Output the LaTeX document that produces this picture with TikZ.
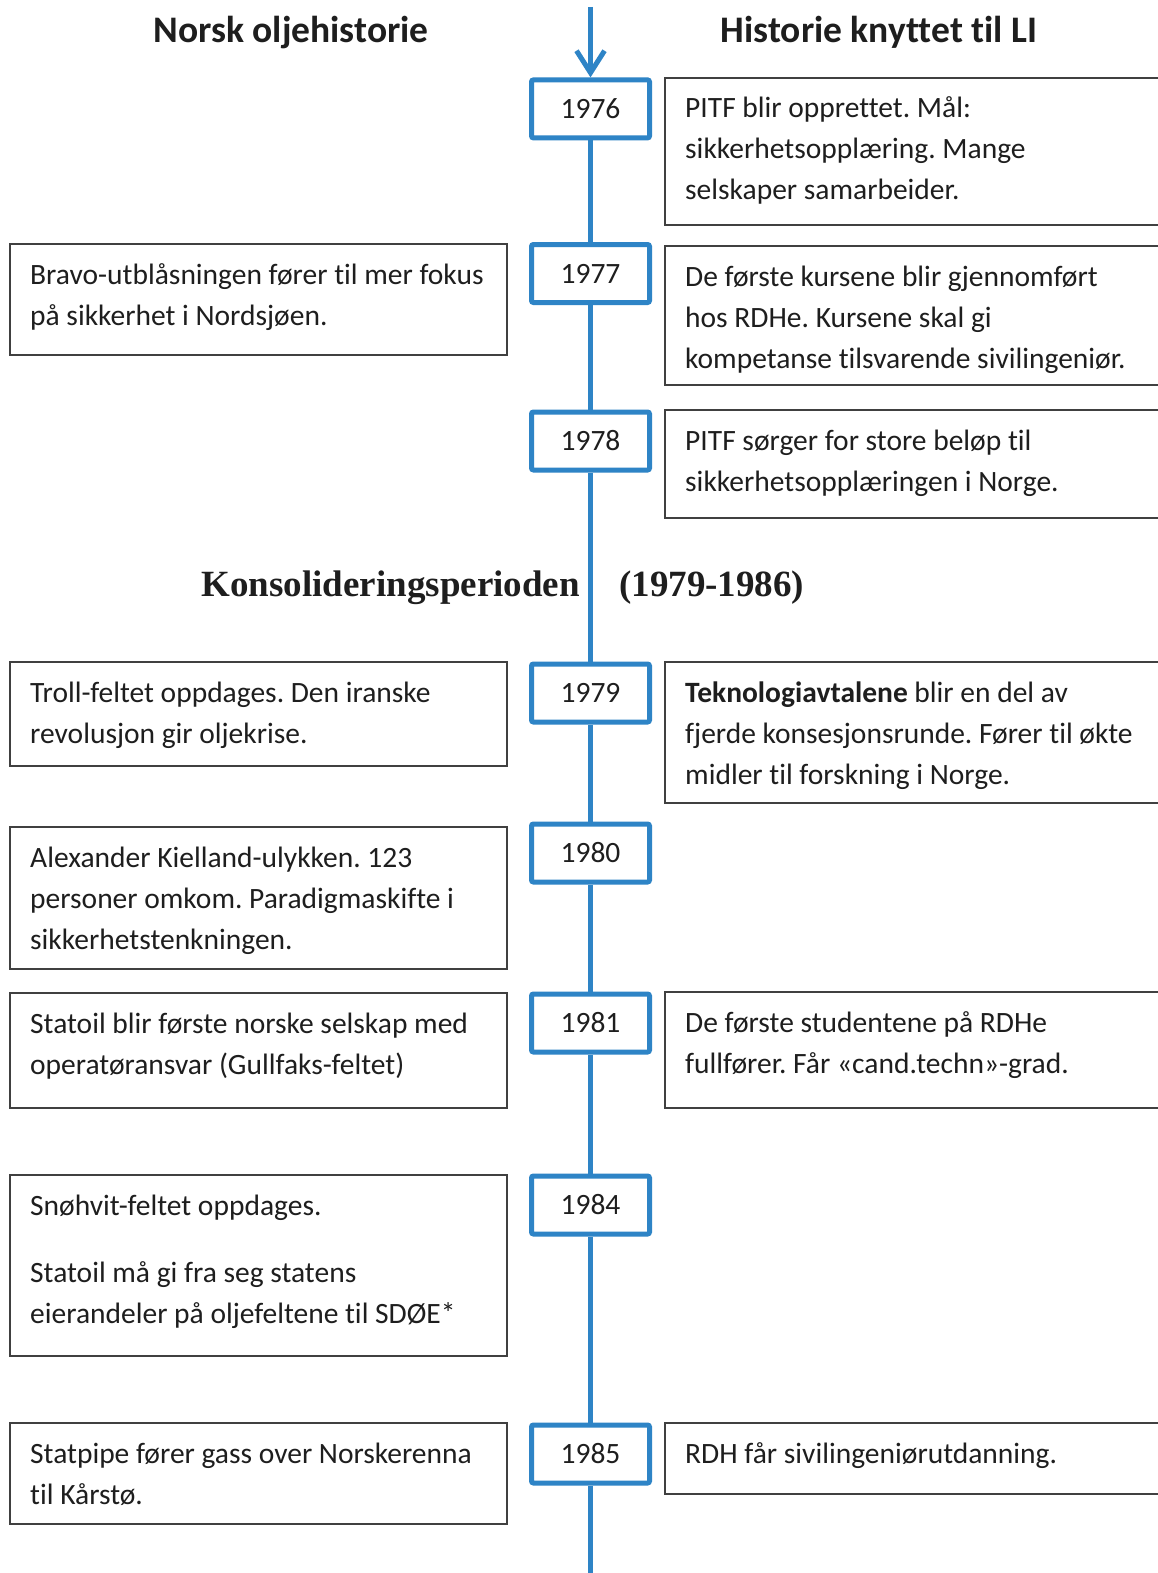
\documentclass[tikz,border=0pt]{standalone}
\usepackage{fontspec}
\setmainfont{Carlito}[Ligatures=NoCommon]
\newfontfamily\serifbold{Liberation Serif}
\usetikzlibrary{arrows.meta,calc}
\definecolor{tlblue}{RGB}{46,132,198}
\definecolor{boxgray}{RGB}{64,64,64}
\definecolor{ink}{RGB}{30,30,30}
\frenchspacing
\newcommand\txtlines[1]{\vtop{\baselineskip=41pt\relax #1}}
\newcommand\tline[1]{\hbox{#1}}
\begin{document}
\begin{tikzpicture}[x=1pt,y=-1pt,
  yearbox/.style={draw=tlblue, line width=5pt, rounded corners=2pt, minimum width=118pt, minimum height=58pt, inner sep=0pt, fill=white, font=\fontsize{29.5}{35}\selectfont, text=ink},
  infobox/.style={draw=boxgray, line width=1.3pt, anchor=north west, inner sep=0pt, outer sep=0pt},
  infotext/.style={anchor=base west, inner sep=0pt, font=\fontsize{29.5}{41}\selectfont, text=ink},
  tline/.style={draw=tlblue, line width=5pt},
  heading/.style={anchor=base, inner sep=0pt, font=\bfseries\fontsize{37.5}{44}\selectfont, text=ink},
  period/.style={inner sep=0pt, font=\serifbold\bfseries\fontsize{37}{44}\selectfont, text=ink}
]
\useasboundingbox[fill=white] (0,0) rectangle (1157,1573);

% headings
\node[heading] (hL) at (291,43) {Norsk oljehistorie};
\node[heading] (hR) at (879,43) {Historie knyttet til LI};
\node[period, anchor=base east] (p1) at (580,596) {Konsolideringsperioden};
\node[period, anchor=base west] (p2) at (619,596) {(1979-1986)};

% year boxes
\node[yearbox] (Y1976) at (590.5,108.9) {1976};
\node[yearbox] (Y1977) at (590.5,273.5) {1977};
\node[yearbox] (Y1978) at (590.5,441) {1978};
\node[yearbox] (Y1979) at (590.5,693) {1979};
\node[yearbox] (Y1980) at (590.5,853) {1980};
\node[yearbox] (Y1981) at (590.5,1023) {1981};
\node[yearbox] (Y1984) at (590.5,1205) {1984};
\node[yearbox] (Y1985) at (590.5,1454) {1985};

% timeline
\coordinate (top) at (590.5,7);
\coordinate (bot) at (590.5,1580);
\draw[tline, -{Straight Barb[length=22pt,width=28pt]}] (top) -- (Y1976.north);
\draw[tline] (Y1976.south) -- (Y1977.north);
\draw[tline] (Y1977.south) -- (Y1978.north);
\draw[tline] (Y1978.south) -- (Y1979.north);
\draw[tline] (Y1979.south) -- (Y1980.north);
\draw[tline] (Y1980.south) -- (Y1981.north);
\draw[tline] (Y1981.south) -- (Y1984.north);
\draw[tline] (Y1984.south) -- (Y1985.north);
\draw[tline] (Y1985.south) -- (bot);

% left boxes
\node[infobox, minimum width=497pt, minimum height=111pt] (L1) at (10,244) {};
\node[infotext] (L1t) at ($(L1.north west)+(20,40)$) {\txtlines{\tline{Bravo-utblåsningen fører til mer fokus}\tline{på sikkerhet i Nordsjøen.}}};

\node[infobox, minimum width=497pt, minimum height=104pt] (L2) at (10,662) {};
\node[infotext] (L2t) at ($(L2.north west)+(20,40)$) {\txtlines{\tline{Troll-feltet oppdages. Den iranske}\tline{revolusjon gir oljekrise.}}};

\node[infobox, minimum width=497pt, minimum height=142pt] (L3) at (10,827) {};
\node[infotext] (L3t) at ($(L3.north west)+(20,40)$) {\txtlines{\tline{Alexander Kielland-ulykken. 123}\tline{personer omkom. Paradigmaskifte i}\tline{sikkerhetstenkningen.}}};

\node[infobox, minimum width=497pt, minimum height=115pt] (L4) at (10,993) {};
\node[infotext] (L4t) at ($(L4.north west)+(20,40)$) {\txtlines{\tline{Statoil blir første norske selskap med}\tline{operatøransvar (Gullfaks-feltet)}}};

\node[infobox, minimum width=497pt, minimum height=181pt] (L5) at (10,1175) {};
\node[infotext] (L5t) at ($(L5.north west)+(20,40)$) {\txtlines{\tline{Snøhvit-feltet oppdages.}\vskip26pt\tline{Statoil må gi fra seg statens}\tline{eierandeler på oljefeltene til SDØE*}}};

\node[infobox, minimum width=497pt, minimum height=101pt] (L6) at (10,1423) {};
\node[infotext] (L6t) at ($(L6.north west)+(20,40)$) {\txtlines{\tline{Statpipe fører gass over Norskerenna}\tline{til Kårstø.}}};

% right boxes
\node[infobox, minimum width=520pt, minimum height=147pt] (R1) at (665,78) {};
\node[infotext] (R1t) at ($(R1.north west)+(20,40)$) {\txtlines{\tline{PITF blir opprettet. Mål:}\tline{sikkerhetsopplæring. Mange}\tline{selskaper samarbeider.}}};

\node[infobox, minimum width=520pt, minimum height=139pt] (R2) at (665,246) {};
\node[infotext] (R2t) at ($(R2.north west)+(20,40)$) {\txtlines{\tline{De første kursene blir gjennomført}\tline{hos RDHe. Kursene skal gi}\tline{kompetanse tilsvarende sivilingeniør.}}};

\node[infobox, minimum width=520pt, minimum height=108pt] (R3) at (665,410) {};
\node[infotext] (R3t) at ($(R3.north west)+(20,40)$) {\txtlines{\tline{PITF sørger for store beløp til}\tline{sikkerhetsopplæringen i Norge.}}};

\node[infobox, minimum width=520pt, minimum height=141pt] (R4) at (665,662) {};
\node[infotext] (R4t) at ($(R4.north west)+(20,40)$) {\txtlines{\tline{\textbf{Teknologiavtalene} blir en del av}\tline{fjerde konsesjonsrunde. Fører til økte}\tline{midler til forskning i Norge.}}};

\node[infobox, minimum width=520pt, minimum height=116pt] (R5) at (665,992) {};
\node[infotext] (R5t) at ($(R5.north west)+(20,40)$) {\txtlines{\tline{De første studentene på RDHe}\tline{fullfører. Får «cand.techn»-grad.}}};

\node[infobox, minimum width=520pt, minimum height=71pt] (R6) at (665,1423) {};
\node[infotext] (R6t) at ($(R6.north west)+(20,40)$) {\txtlines{\tline{RDH får sivilingeniørutdanning.}}};
\end{tikzpicture}
\end{document}
